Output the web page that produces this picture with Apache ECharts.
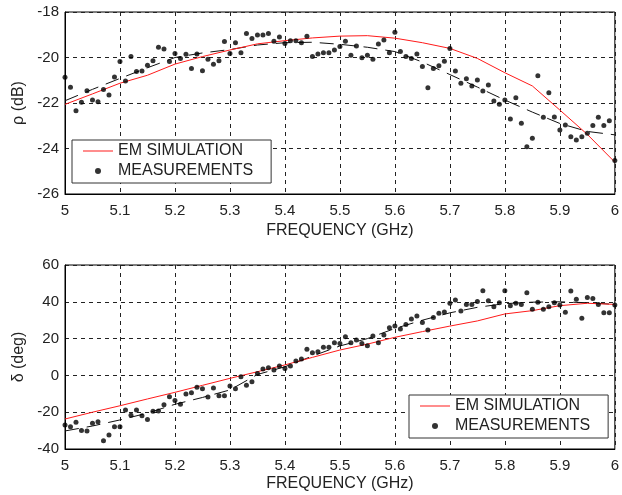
<!DOCTYPE html>
<html>
<head>
<meta charset="utf-8">
<script src="https://cdn.jsdelivr.net/npm/echarts@6/dist/echarts.min.js"></script>
<style>
  html, body { margin: 0; padding: 0; background: #fff; }
  #chart { width: 622px; height: 495px; }
</style>
</head>
<body>
<div id="chart"></div>
<script>
// measurement sweep (GHz)
const measFreq = [
  5.00, 5.01, 5.02, 5.03, 5.04, 5.05, 5.06, 5.07, 5.08, 5.09,
  5.10, 5.11, 5.12, 5.13, 5.14, 5.15, 5.16, 5.17, 5.18, 5.19,
  5.20, 5.21, 5.22, 5.23, 5.24, 5.25, 5.26, 5.27, 5.28, 5.29,
  5.30, 5.31, 5.32, 5.33, 5.34, 5.35, 5.36, 5.37, 5.38, 5.39,
  5.40, 5.41, 5.42, 5.43, 5.44, 5.45, 5.46, 5.47, 5.48, 5.49,
  5.50, 5.51, 5.52, 5.53, 5.54, 5.55, 5.56, 5.57, 5.58, 5.59,
  5.60, 5.61, 5.62, 5.63, 5.64, 5.65, 5.66, 5.67, 5.68, 5.69,
  5.70, 5.71, 5.72, 5.73, 5.74, 5.75, 5.76, 5.77, 5.78, 5.79,
  5.80, 5.81, 5.82, 5.83, 5.84, 5.85, 5.86, 5.87, 5.88, 5.89,
  5.90, 5.91, 5.92, 5.93, 5.94, 5.95, 5.96, 5.97, 5.98, 5.99,
  6.00
];

const rhoMeas = [
  -20.87, -21.31, -22.34, -21.97, -21.46, -21.87, -21.94, -21.41, -21.65, -20.86,
  -20.18, -21.03, -19.96, -20.62, -20.59, -20.34, -20.14, -19.55, -19.63, -20.18,
  -19.82, -20.04, -19.86, -20.48, -19.85, -20.58, -20.08, -20.30, -20.14, -19.30,
  -19.82, -19.35, -19.79, -18.94, -19.17, -19.01, -19.01, -18.95, -19.29, -19.10,
  -19.38, -19.26, -19.26, -19.35, -19.07, -19.96, -19.85, -19.79, -19.79, -19.67,
  -19.52, -19.29, -19.90, -19.49, -20.01, -19.90, -20.08, -19.41, -19.23, -19.79,
  -18.89, -19.74, -19.96, -20.04, -19.85, -20.40, -21.33, -20.48, -20.36, -20.17,
  -19.60, -20.59, -21.13, -20.93, -21.25, -20.99, -21.47, -21.21, -21.91, -22.06,
  -21.87, -22.70, -21.77, -22.89, -23.92, -23.55, -20.80, -22.63, -21.55, -22.62,
  -23.19, -22.97, -23.48, -23.63, -23.48, -23.33, -22.99, -22.63, -22.99, -22.78,
  -24.53
];

const deltaMeas = [
  -27.0, -27.9, -25.5, -30.0, -30.2, -26.0, -25.2, -35.5, -32.4, -27.9,
  -27.9, -18.8, -21.7, -18.8, -21.9, -23.9, -19.5, -19.3, -15.9, -11.6,
  -13.7, -15.7, -10.1, -9.4, -6.5, -7.2, -11.7, -6.8, -11.0, -11.0,
  -5.8, -7.2, -0.7, -5.4, -3.4, 1.1, 3.5, 4.2, 2.9, 5.1,
  3.8, 5.1, 7.8, 8.9, 14.2, 12.3, 12.9, 15.3, 15.3, 17.8,
  17.4, 21.0, 17.8, 19.2, 17.4, 16.1, 21.4, 17.8, 22.0, 25.9,
  26.8, 25.2, 27.6, 30.7, 32.3, 28.8, 24.7, 31.4, 33.8, 34.5,
  39.2, 41.0, 35.0, 38.6, 38.6, 40.1, 46.0, 40.6, 37.3, 39.5,
  46.0, 37.9, 39.2, 38.6, 44.9, 35.9, 39.7, 35.9, 37.3, 39.5,
  38.3, 34.3, 45.9, 41.4, 31.0, 42.4, 41.8, 38.6, 34.1, 34.1,
  38.3
];

// simulation + fitted curve sampled every 50 MHz
const curveFreq = [
  5.00, 5.05, 5.10, 5.15, 5.20, 5.25, 5.30, 5.35, 5.40, 5.45,
  5.50, 5.55, 5.60, 5.65, 5.70, 5.75, 5.80, 5.85, 5.90, 5.95, 6.00
];
const rhoSim = [
  -22.06, -21.60, -21.13, -20.78, -20.29, -19.96, -19.67, -19.40, -19.26, -19.14,
  -19.06, -19.04, -19.15, -19.35, -19.60, -20.04, -20.67, -21.25, -22.31, -23.38, -24.60
];
const rhoFit = [
  -21.90, -21.40, -20.92, -20.45, -20.00, -19.80, -19.65, -19.45, -19.35, -19.33,
  -19.42, -19.55, -19.74, -20.20, -20.75, -21.30, -21.87, -22.40, -22.90, -23.25, -23.40
];
const deltaSim = [
  -23.7, -20.0, -16.5, -12.8, -9.2, -5.4, -1.6, 2.0, 5.7, 9.8,
  13.8, 17.0, 20.7, 23.8, 26.8, 29.6, 33.4, 35.2, 37.9, 39.2, 38.6
];
const deltaFit = [
  -30.2, -27.5, -24.2, -20.5, -15.7, -12.0, -7.9, 0.5, 4.7, 10.5,
  16.0, 20.0, 25.5, 30.0, 34.0, 37.0, 39.0, 39.8, 40.0, 39.5, 38.6
];

const legendNames = ["EM SIMULATION", "MEASUREMENTS"];
const xName = "FREQUENCY (GHz)";

const pair = (xs, ys) => xs.map((x, i) => [x, ys[i]]);

const FONT = "'Liberation Sans', Arial, sans-serif";
const gridLine = { show: true, lineStyle: { color: "#222", type: [4, 4], width: 1 } };
const label = { color: "#222", fontSize: 15, fontFamily: FONT };

function xAxis(gridIndex, nameGap){
  return {
    type: "value", gridIndex, min: 5, max: 6, interval: 0.1,
    name: xName, nameLocation: "middle", nameGap,
    nameTextStyle: { color: "#222", fontSize: 16, fontFamily: FONT },
    axisLine: { show: true, onZero: false, lineStyle: { color: "#000" } },
    axisTick: { show: false },
    axisLabel: { ...label, margin: 9, formatter: v => String(+v.toFixed(1)) },
    splitLine: gridLine
  };
}
function yAxis(gridIndex, name, min, max, interval){
  return {
    type: "value", gridIndex, min, max, interval,
    name, nameLocation: "middle", nameGap: 30, nameRotate: 90,
    nameTextStyle: { color: "#222", fontSize: 16, fontFamily: FONT },
    axisLine: { show: true, onZero: false, lineStyle: { color: "#000" } },
    axisTick: { show: false },
    axisLabel: { ...label, margin: 6 },
    splitLine: gridLine
  };
}
function legend(left, top){
  return {
    left, top, orient: "vertical",
    data: [
      { name: legendNames[0], icon: "path://M0,0H30V1H0Z" },
      { name: legendNames[1], icon: "circle" }
    ],
    backgroundColor: "#fff", borderColor: "#333", borderWidth: 1,
    padding: [3, 18, 4, 11], itemGap: 4,
    itemWidth: 30, itemHeight: 6,
    textStyle: { color: "#222", fontSize: 16, fontFamily: FONT }
  };
}

const chart = echarts.init(document.getElementById("chart"), null, { renderer: "canvas" });
chart.setOption({
  animation: false,
  backgroundColor: "#fff",
  grid: [
    { left: 65, top: 12, width: 553, height: 182, show: true, borderColor: "#000", borderWidth: 1 },
    { left: 65, top: 265, width: 553, height: 184, show: true, borderColor: "#000", borderWidth: 1 }
  ],
  xAxis: [xAxis(0, 29), xAxis(1, 27)],
  yAxis: [yAxis(0, "ρ (dB)", -26, -18, 2), yAxis(1, "δ (deg)", -40, 60, 20)],
  legend: [legend(72, 140), legend(409, 395)],
  series: [
    { name: "EM SIMULATION", type: "line", xAxisIndex: 0, yAxisIndex: 0, symbol: "none",
      lineStyle: { color: "#ff1a1a", width: 1 }, itemStyle: { color: "#ff1a1a" },
      data: pair(curveFreq, rhoSim), z: 3 },
    { name: "fit", type: "line", xAxisIndex: 0, yAxisIndex: 0, symbol: "none",
      lineStyle: { color: "#111", width: 1, type: [14, 8] }, data: pair(curveFreq, rhoFit), z: 2 },
    { name: "MEASUREMENTS", type: "scatter", xAxisIndex: 0, yAxisIndex: 0, symbol: "circle",
      symbolSize: 5, itemStyle: { color: "#000" }, data: pair(measFreq, rhoMeas), z: 4 },

    { name: "EM SIMULATION", type: "line", xAxisIndex: 1, yAxisIndex: 1, symbol: "none",
      lineStyle: { color: "#ff1a1a", width: 1 }, itemStyle: { color: "#ff1a1a" },
      data: pair(curveFreq, deltaSim), z: 3 },
    { name: "fit", type: "line", xAxisIndex: 1, yAxisIndex: 1, symbol: "none",
      lineStyle: { color: "#111", width: 1, type: [14, 8] }, data: pair(curveFreq, deltaFit), z: 2 },
    { name: "MEASUREMENTS", type: "scatter", xAxisIndex: 1, yAxisIndex: 1, symbol: "circle",
      symbolSize: 5, itemStyle: { color: "#000" }, data: pair(measFreq, deltaMeas), z: 4 }
  ]
});
window.addEventListener("resize", () => chart.resize());
</script>
</body>
</html>
